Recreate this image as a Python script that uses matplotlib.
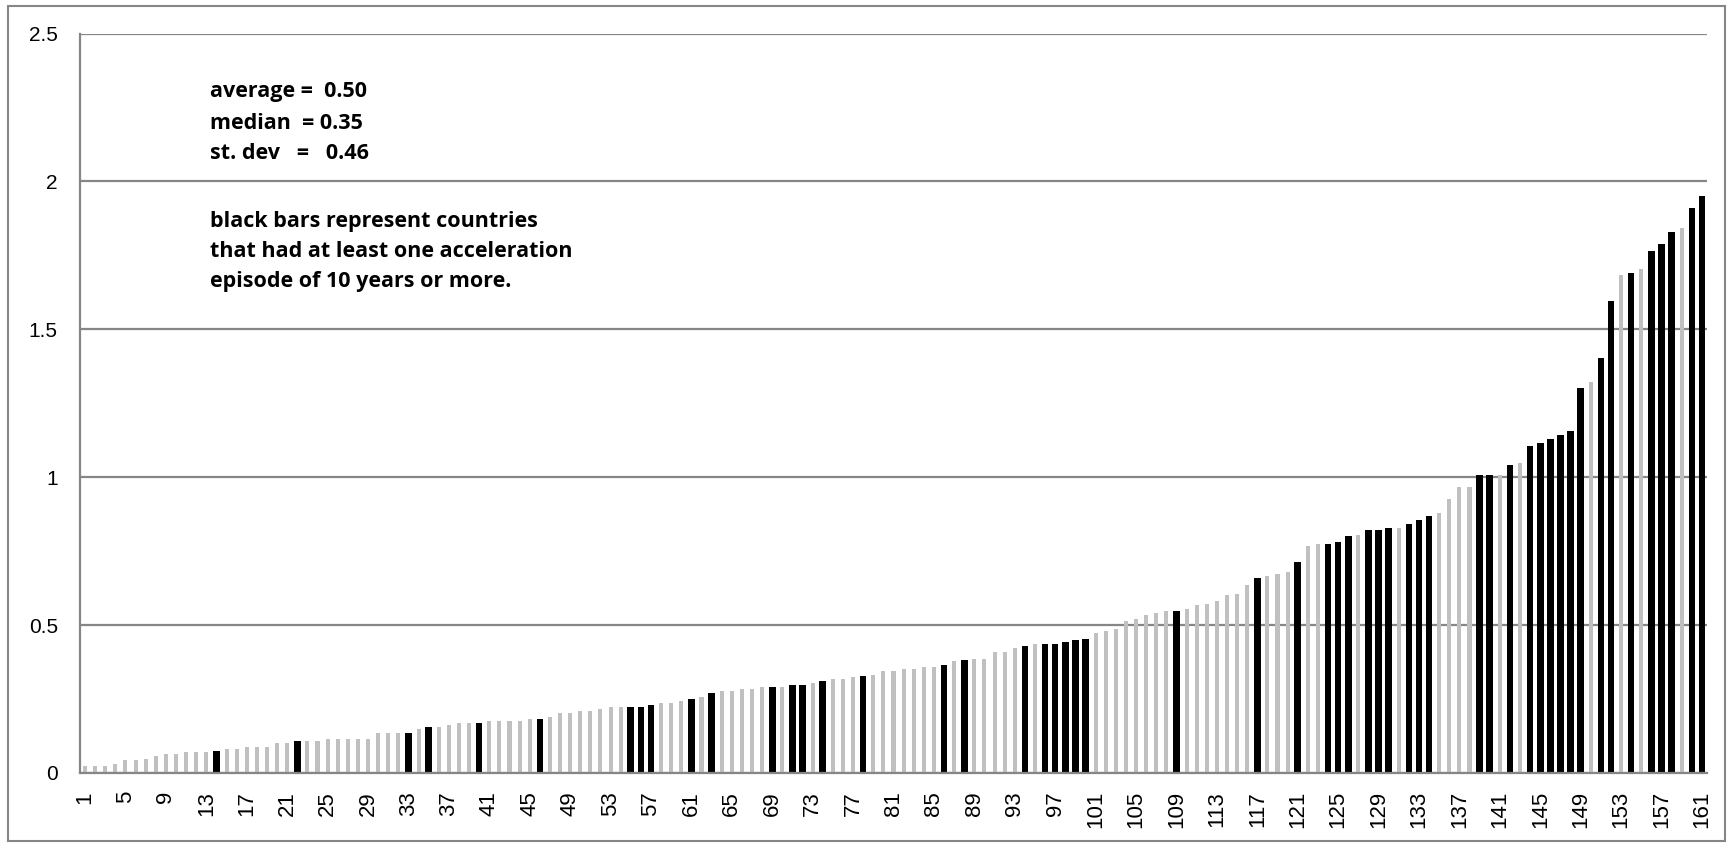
import matplotlib.pyplot as plt
from matplotlib.patches import Rectangle

# Bar values, sorted (one bar per country)
values = [
    0.022, 0.022, 0.022, 0.030, 0.043, 0.043, 0.049, 0.056, 0.063, 0.063,
    0.070, 0.070, 0.070, 0.075, 0.082, 0.082, 0.089, 0.089, 0.089, 0.102,
    0.102, 0.109, 0.109, 0.109, 0.116, 0.116, 0.116, 0.116, 0.116, 0.136,
    0.136, 0.136, 0.136, 0.149, 0.156, 0.156, 0.163, 0.169, 0.169, 0.170,
    0.177, 0.177, 0.177, 0.177, 0.184, 0.184, 0.190, 0.204, 0.204, 0.211,
    0.211, 0.217, 0.224, 0.224, 0.224, 0.224, 0.231, 0.238, 0.238, 0.244,
    0.251, 0.258, 0.271, 0.278, 0.278, 0.285, 0.285, 0.292, 0.292, 0.292,
    0.298, 0.298, 0.305, 0.312, 0.319, 0.319, 0.323, 0.329, 0.331, 0.345,
    0.345, 0.351, 0.351, 0.357, 0.357, 0.364, 0.377, 0.383, 0.384, 0.384,
    0.410, 0.410, 0.423, 0.430, 0.437, 0.437, 0.437, 0.444, 0.450, 0.452,
    0.473, 0.480, 0.487, 0.513, 0.520, 0.533, 0.540, 0.546, 0.548, 0.553,
    0.568, 0.573, 0.581, 0.601, 0.606, 0.634, 0.659, 0.666, 0.674, 0.680,
    0.714, 0.767, 0.773, 0.773, 0.780, 0.800, 0.806, 0.822, 0.822, 0.829,
    0.829, 0.842, 0.855, 0.869, 0.879, 0.926, 0.968, 0.968, 1.008, 1.008,
    1.008, 1.041, 1.048, 1.107, 1.114, 1.130, 1.143, 1.156, 1.302, 1.322,
    1.403, 1.595, 1.684, 1.691, 1.703, 1.765, 1.789, 1.830, 1.844, 1.911,
    1.951,
]

# countries with at least one acceleration episode of 10+ years (black bars)
black_bars = [14, 22, 33, 35, 40, 46, 55, 56, 57, 61, 63, 69, 71, 72, 74, 78,
              86, 88, 94, 96, 97, 98, 99, 100, 109, 117, 121, 124, 125, 126,
              128, 129, 130, 132, 133, 134, 139, 140, 142, 144, 145, 146, 147,
              148, 149, 151, 152, 154, 156, 157, 158, 160, 161]

y_ticks = [0, 0.5, 1, 1.5, 2, 2.5]
y_tick_labels = ['0', '0.5', '1', '1.5', '2', '2.5']

stats_lines = ['average =  0.50', 'median  = 0.35', 'st. dev   =   0.46']
note_lines = ['black bars represent countries',
              'that had at least one acceleration',
              'episode of 10 years or more.']

grid_col = '#868686'
gray_col = '#C0C0C0'

positions = list(range(1, len(values) + 1))
gray_x = [p for p in positions if p not in black_bars]
gray_y = [values[p - 1] for p in gray_x]
black_y = [values[p - 1] for p in black_bars]

fig = plt.figure(figsize=(17.29, 8.43), dpi=100)
ax = fig.add_axes([80 / 1729, 70 / 843, 1627 / 1729, 739.5 / 843])

# outer chart border
fig.patches.append(Rectangle((8 / 1729, 2 / 843), 1717 / 1729, 835 / 843,
                             transform=fig.transFigure, fill=False,
                             edgecolor=grid_col, linewidth=1.5))

ax.bar(gray_x, gray_y, width=0.4, color=gray_col, zorder=3)
ax.bar(black_bars, black_y, width=0.65, color='black', zorder=3)

ax.set_xlim(0.5, len(values) + 0.5)
ax.set_ylim(0, 2.5)

ax.set_yticks(y_ticks)
ax.set_yticklabels(y_tick_labels, family='Liberation Sans', fontsize=15)
ax.yaxis.grid(True, color=grid_col, linewidth=1.6, zorder=1)

x_ticks = positions[::4]
ax.set_xticks(x_ticks)
ax.set_xticklabels([str(t) for t in x_ticks], rotation=90,
                   family='Liberation Sans', fontsize=16)

ax.tick_params(axis='y', length=0, pad=16)
ax.tick_params(axis='x', length=0, pad=13)
for s in ['top', 'right']:
    ax.spines[s].set_visible(False)
for s in ['left', 'bottom']:
    ax.spines[s].set_color(grid_col)
    ax.spines[s].set_linewidth(1.6)
    ax.spines[s].set_zorder(4)

# summary stats and note
stats_y = [0.914, 0.871, 0.830]
for line, yy in zip(stats_lines, stats_y):
    ax.text(0.080, yy, line, transform=ax.transAxes, family='Open Sans',
            fontweight='bold', fontsize=15.5, va='baseline', ha='left')

note_y = [0.738, 0.698, 0.657]
for line, yy in zip(note_lines, note_y):
    ax.text(0.080, yy, line, transform=ax.transAxes, family='Open Sans',
            fontweight='bold', fontsize=15.5, va='baseline', ha='left')

plt.savefig('out.png', dpi=100)
